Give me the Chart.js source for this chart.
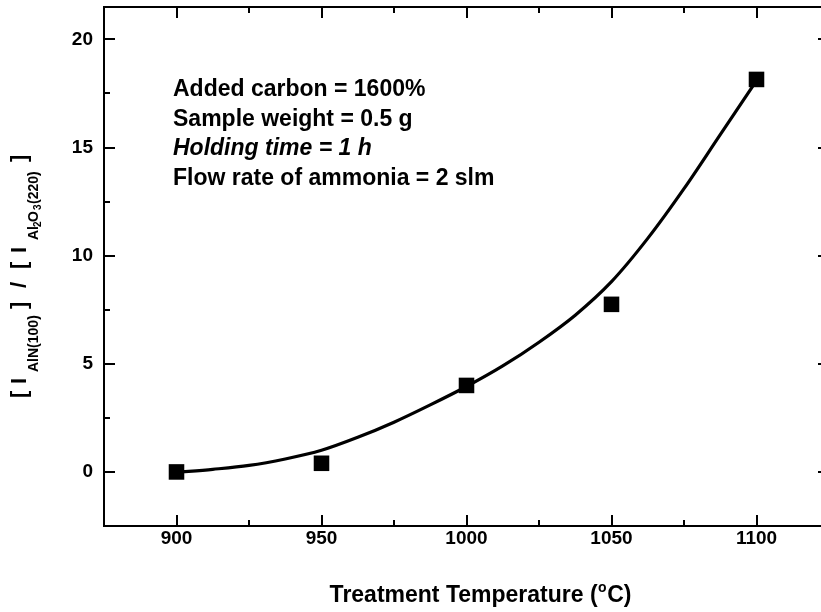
<!DOCTYPE html>
<html>
<head>
<meta charset="utf-8">
<script src="https://cdn.jsdelivr.net/npm/chart.js@4/dist/chart.umd.min.js"></script>
<style>
html,body{margin:0;padding:0;background:#fff;overflow:hidden;width:821px;height:612px}
#wrap{position:absolute;left:0;top:0;width:832px;height:612px}
</style>
</head>
<body>
<div id="wrap"><canvas id="c" width="832" height="612"></canvas></div>
<script>
// ---- data ----
const temperatures = [900, 950, 1000, 1050, 1100];
const intensityRatio = [0.0, 0.4, 4.0, 7.75, 18.15];

const fitTemperatures = [900, 912.5, 925, 937.5, 950, 962.5, 975, 987.5, 1000, 1012.5, 1025, 1037.5, 1050, 1062.5, 1075, 1087.5, 1100];
const fitRatio = [-0.02, 0.12, 0.3, 0.6, 1.0, 1.6, 2.3, 3.1, 3.95, 4.9, 6.0, 7.25, 8.8, 10.8, 13.1, 15.6, 18.1];

const xTickLabels = [900, 950, 1000, 1050, 1100];
const xMinorTicks = [925, 975, 1025, 1075];
const yTickLabels = [0, 5, 10, 15, 20];
const yMinorTicks = [2.5, 7.5, 12.5, 17.5];

const annotationLines = [
  "Added carbon = 1600%",
  "Sample weight = 0.5 g",
  "Holding time = 1 h",
  "Flow rate of ammonia = 2 slm"
];
const italicLine = 2;
const xTitleMain = "Treatment Temperature (";
const xTitleSup = "o";
const xTitleEnd = "C)";

const FONT = '"Liberation Sans", Arial, sans-serif';

const framePlugin = {
  id: 'framePlugin',
  afterDraw(chart) {
    const {ctx, chartArea: a, scales: {x, y}} = chart;
    ctx.save();
    ctx.strokeStyle = '#000';
    ctx.lineWidth = 2;
    ctx.lineCap = 'butt';
    ctx.strokeRect(a.left, a.top, a.right - a.left, a.bottom - a.top);
    const seg = (x1, y1, x2, y2) => { ctx.beginPath(); ctx.moveTo(x1, y1); ctx.lineTo(x2, y2); ctx.stroke(); };
    const xt = (v, len) => { const p = Math.round(x.getPixelForValue(v)); seg(p, a.bottom, p, a.bottom - len); seg(p, a.top, p, a.top + len); };
    const yt = (v, len) => { const p = Math.round(y.getPixelForValue(v)); seg(a.left, p, a.left + len, p); seg(a.right, p, a.right - len, p); };
    xTickLabels.forEach(v => xt(v, 11));
    xMinorTicks.forEach(v => xt(v, 6));
    yTickLabels.forEach(v => yt(v, 11));
    yMinorTicks.forEach(v => yt(v, 6));

    // tick labels
    ctx.fillStyle = '#000';
    ctx.font = 'bold 19px ' + FONT;
    ctx.textBaseline = 'middle';
    ctx.textAlign = 'right';
    yTickLabels.forEach(v => ctx.fillText(String(v), a.left - 11, y.getPixelForValue(v)));
    ctx.textAlign = 'center';
    xTickLabels.forEach(v => ctx.fillText(String(v), x.getPixelForValue(v), a.bottom + 12.5));

    // annotation text
    ctx.textBaseline = 'alphabetic';
    ctx.textAlign = 'left';
    annotationLines.forEach((t, i) => {
      ctx.font = (i === italicLine ? 'italic ' : '') + 'bold 23px ' + FONT;
      ctx.fillText(t, 173, 96 + i * 29.6);
    });

    // x axis title
    ctx.font = 'bold 23px ' + FONT;
    let w1 = ctx.measureText(xTitleMain).width;
    ctx.font = 'bold 14px ' + FONT;
    let w2 = ctx.measureText(xTitleSup).width;
    ctx.font = 'bold 23px ' + FONT;
    let w3 = ctx.measureText(xTitleEnd).width;
    let cx = 480 - (w1 + w2 + w3) / 2;
    const by = 602;
    ctx.fillText(xTitleMain, cx, by);
    ctx.font = 'bold 14px ' + FONT;
    ctx.fillText(xTitleSup, cx + w1 + 0.5, by - 10);
    ctx.font = 'bold 23px ' + FONT;
    ctx.fillText(xTitleEnd, cx + w1 + w2 + 1, by);

    // y axis title (rotated)
    ctx.translate(26, 398);
    ctx.rotate(-Math.PI / 2);
    const pieces = [
      ['[', 'big', 0], ['I', 'big', 14], ['AlN(100)', 'sub', 26],
      [']', 'big', 89], ['/', 'big', 110], ['[', 'big', 129], ['I', 'big', 145],
      ['Al', 'sub', 158], ['2', 'ss', 171], ['O', 'sub', 176], ['3', 'ss', 188],
      ['(220)', 'sub', 194], [']', 'big', 236]
    ];
    const style = {big: ['bold 22px ', 0], sub: ['bold 14px ', 12], ss: ['bold 10px ', 15]};
    pieces.forEach(([t, k, off]) => {
      ctx.font = style[k][0] + FONT;
      ctx.fillText(t, off, style[k][1]);
    });
    ctx.restore();
  }
};

new Chart(document.getElementById('c'), {
  type: 'scatter',
  data: {
    datasets: [
      {
        label: 'fit',
        data: fitTemperatures.map((t, i) => ({x: t, y: fitRatio[i]})),
        showLine: true,
        borderColor: '#000',
        borderWidth: 3.2,
        pointRadius: 0,
        cubicInterpolationMode: 'monotone',
        order: 2
      },
      {
        label: 'data',
        data: temperatures.map((t, i) => ({x: t, y: intensityRatio[i]})),
        showLine: false,
        pointStyle: 'rect',
        pointRadius: 11,
        pointBackgroundColor: '#000',
        pointBorderWidth: 0,
        order: 1
      }
    ]
  },
  options: {
    responsive: false,
    devicePixelRatio: 1,
    animation: false,
    layout: {autoPadding: false, padding: {left: 0, top: 7, right: 3, bottom: 0}},
    plugins: {legend: {display: false}, tooltip: {enabled: false}},
    scales: {
      x: {
        type: 'linear', min: 875, max: 1125,
        grid: {display: false, drawTicks: false},
        border: {display: false},
        ticks: {display: false},
        afterFit: s => { s.height = 86; }
      },
      y: {
        type: 'linear', min: -2.5, max: 21.5,
        grid: {display: false, drawTicks: false},
        border: {display: false},
        ticks: {display: false},
        afterFit: s => { s.width = 104; }
      }
    }
  },
  plugins: [framePlugin]
});
</script>
</body>
</html>
